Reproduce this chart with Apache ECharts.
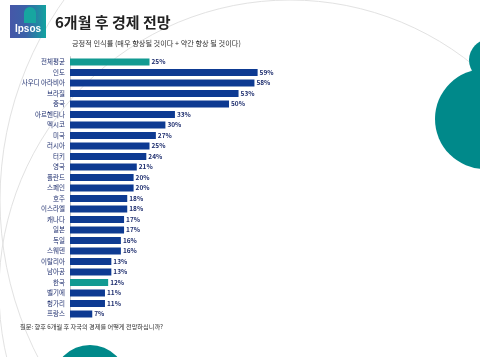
<!DOCTYPE html>
<html>
<head>
<meta charset="utf-8">
<style>
html,body{margin:0;padding:0;background:#fff;}
#chart{width:480px;height:357px;}
</style>
<script src="https://cdn.jsdelivr.net/npm/echarts@6/dist/echarts.min.js"></script>
</head>
<body>
<div id="chart"></div>
<script>
const categories = ['전체평균','인도','사우디 아라비아','브라질','중국','아르헨티나','멕시코','미국','러시아','터키','영국','폴란드','스페인','호주','이스라엘','캐나다','일본','독일','스웨덴','이탈리아','남아공','한국','벨기에','헝가리','프랑스'];
const values = [25,59,58,53,50,33,30,27,25,24,21,20,20,18,18,17,17,16,16,13,13,12,11,11,7];
const highlight = ['전체평균','한국'];

const NAVY = '#0d3a92';
const TEAL = '#119a92';
const FONT = '"Noto Sans CJK KR", "Noto Sans", sans-serif';

const chart = echarts.init(document.getElementById('chart'));
chart.setOption({
  animation: false,
  backgroundColor: '#fff',
  grid: { left: 70, right: 219.2, top: 56.75, bottom: 37.75, containLabel: false },
  xAxis: { type: 'value', min: 0, max: 60, show: false },
  yAxis: {
    type: 'category', data: categories, inverse: true,
    axisLine: { show: true, lineStyle: { color: '#c8c8c8', width: 1 } },
    axisTick: { show: false },
    axisLabel: { color: '#1f2f6f', fontSize: 6.5, fontFamily: FONT, margin: 5 }
  },
  series: [{
    type: 'bar', barWidth: 7,
    data: values.map((v, i) => ({ value: v, itemStyle: { color: highlight.includes(categories[i]) ? TEAL : NAVY } })),
    label: { show: true, position: 'right', distance: 2, formatter: '{c}%', color: '#1f2f6f', fontSize: 6.5, fontWeight: 'bold', fontFamily: FONT }
  }],
  graphic: [
    { type: 'circle', silent: true, shape: { cx: 290, cy: 291, r: 291 }, style: { fill: 'none', stroke: '#e2e2e2', lineWidth: 1 }, z: -10 },
    { type: 'circle', silent: true, shape: { cx: 345, cy: 200, r: 345 }, style: { fill: 'none', stroke: '#e2e2e2', lineWidth: 1 }, z: -10 },
    { type: 'circle', silent: true, shape: { cx: 490, cy: 60, r: 21 }, style: { fill: '#00898a' }, z: -5 },
    { type: 'circle', silent: true, shape: { cx: 485, cy: 119, r: 50 }, style: { fill: '#00898a' }, z: -5 },
    { type: 'circle', silent: true, shape: { cx: 90, cy: 382, r: 37 }, style: { fill: '#00898a' }, z: -5 },
    { type: 'rect', silent: true, shape: { x: 10, y: 5, width: 36, height: 33 },
      style: { fill: new echarts.graphic.LinearGradient(0, 0, 1, 0, [{ offset: 0, color: '#4657a8' }, { offset: 0.45, color: '#3a62a8' }, { offset: 1, color: '#12a3a0' }]) } },
    { type: 'circle', silent: true, shape: { cx: 30, cy: 13, r: 6 }, style: { fill: '#17a6a0' } },
    { type: 'rect', silent: true, shape: { x: 24, y: 13, width: 12, height: 10 }, style: { fill: '#17a6a0' } },
    { type: 'text', silent: true, style: { text: 'Ipsos', x: 28, y: 29, align: 'center', verticalAlign: 'middle', fill: '#fff', font: 'bold 10px "Liberation Sans", sans-serif' } },
    { type: 'text', silent: true, style: { text: '6개월 후 경제 전망', x: 55, y: 22, verticalAlign: 'middle', fill: '#222', font: 'bold 15px ' + FONT } },
    { type: 'text', silent: true, style: { text: '긍정적 인식률 (매우 향상될 것이다 + 약간 향상 될 것이다)', x: 72, y: 43, verticalAlign: 'middle', fill: '#333', font: '7.2px ' + FONT } },
    { type: 'text', silent: true, style: { text: '질문: 향후 6개월 후 자국의 경제를 어떻게 전망하십니까?', x: 20, y: 327, verticalAlign: 'middle', fill: '#333', font: '6.2px ' + FONT } }
  ]
});
</script>
</body>
</html>
